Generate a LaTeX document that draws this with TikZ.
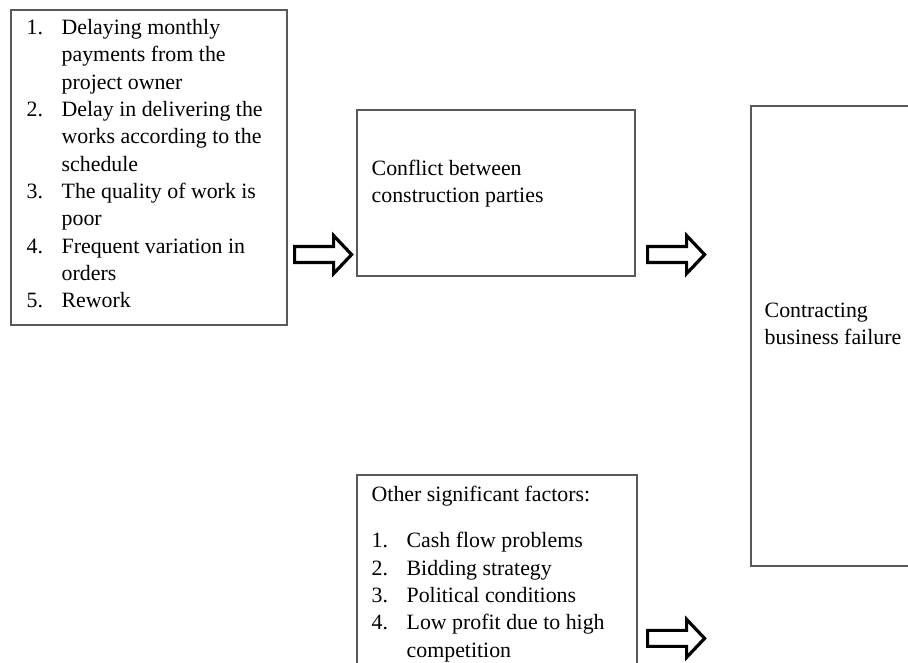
\documentclass[tikz,border=0pt]{standalone}
\usepackage{fontspec}
\setmainfont{Liberation Serif}
\usetikzlibrary{calc}

\begin{document}
\begin{tikzpicture}[x=0.75pt, y=0.75pt,
    box/.style={draw=black!65, line width=0.9pt, inner sep=0pt},
    txt/.style={inner sep=0pt, anchor=base west, font=\fontsize{16.4}{20.5}\selectfont},
    blockarrow/.pic={
      \draw[line width=2.4pt, miter limit=10] (0,8) -- (39,8) -- (39,19) -- (57,0)
        -- (39,-19) -- (39,-8) -- (0,-8) -- cycle;
    }]
  \useasboundingbox (0,0) rectangle (908,663);
  \clip (0,0) rectangle (908,663);
  % boxes (sizes in pt = 0.75 x pixels)
  \node[box, minimum width=207pt, minimum height=236.25pt] (lbox) at (149,495.5) {};
  \node[box, minimum width=208.5pt, minimum height=124.5pt] (mbox) at (496,470) {};
  \node[box, minimum width=186.75pt, minimum height=345pt] (rbox) at (875.5,327) {};
  \node[box, minimum width=210pt, minimum height=171pt] (bbox) at (497,74) {};
  % texts
  \node[txt] (ltext) at ($(lbox.north west)+(16,-25)$) {%
    \begin{tabular}[t]{@{}p{26.25pt}@{}l@{}}
      1. & Delaying monthly\\
         & payments from the\\
         & project owner\\
      2. & Delay in delivering the\\
         & works according to the\\
         & schedule\\
      3. & The quality of work is\\
         & poor\\
      4. & Frequent variation in\\
         & orders\\
      5. & Rework
    \end{tabular}};
  \node[txt] (mtext) at ($(mbox.north west)+(15,-66)$) {%
    \begin{tabular}[t]{@{}l@{}}Conflict between\\ construction parties\end{tabular}};
  \node[txt] (rtext) at ($(rbox.north west)+(14,-212)$) {%
    \begin{tabular}[t]{@{}l@{}}Contracting\\ business failure\end{tabular}};
  \node[txt] (btext) at ($(bbox.north west)+(15,-27)$) {%
    \begin{tabular}[t]{@{}p{26.25pt}@{}l@{}}
      \multicolumn{2}{@{}l@{}}{Other significant factors:}\\[14.25pt]
      1. & Cash flow problems\\
      2. & Bidding strategy\\
      3. & Political conditions\\
      4. & Low profit due to high\\
         & competition
    \end{tabular}};
  % arrows
  \pic at ($(lbox.east |- mbox.south)+(7,22)$) {blockarrow};
  \pic at ($(mbox.south east)+(12,22)$) {blockarrow};
  \pic at ($(bbox.north east)+(10,-164)$) {blockarrow};
\end{tikzpicture}
\end{document}
